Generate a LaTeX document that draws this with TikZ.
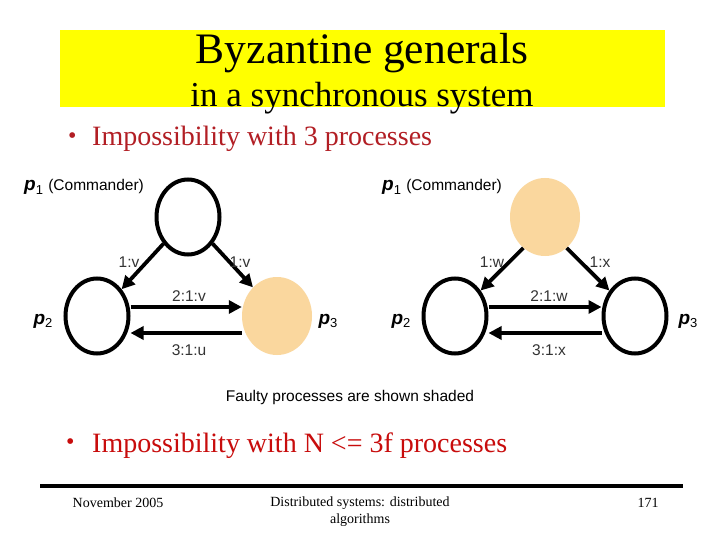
\documentclass[tikz,border=0pt]{standalone}
\usepackage{fontspec}
\setmainfont{Liberation Serif}
\setsansfont{Liberation Sans}
\usetikzlibrary{shapes.geometric,arrows.meta}
\definecolor{faulty}{RGB}{250,215,158}
\definecolor{titleyellow}{RGB}{255,255,0}
\definecolor{redA}{RGB}{178,30,36}
\definecolor{redB}{RGB}{200,12,12}
\tikzset{
  proc/.style={ellipse, draw=black, line width=4pt, minimum width=63pt, minimum height=75pt, inner sep=0pt},
  faultproc/.style={ellipse, fill=faulty, draw=none, minimum width=70pt, minimum height=78pt, inner sep=0pt},
  msg/.style={line width=3.8pt, -{Triangle[length=13pt,width=13pt]}},
  lab/.style={font=\sffamily\fontsize{15.5}{17}\selectfont, text=black!80, inner sep=0pt},
  plab/.style={font=\sffamily\fontsize{19}{21}\selectfont, inner sep=0pt},
  bul/.style={font=\fontsize{28}{30}\selectfont, anchor=base west, inner sep=0pt},
}
\newcommand{\pp}[1]{\textbf{\textit{p}}\raisebox{-0.35ex}{\fontsize{13}{13}\selectfont #1}}
\newcommand{\mybul}{\makebox[20pt][l]{\fontsize{24}{26}\selectfont\raisebox{0.22ex}{\textbullet}}}
\begin{document}
\begin{tikzpicture}[x=1pt,y=-1pt]
\useasboundingbox (0,0) rectangle (720,540);
\fill[white] (0,0) rectangle (720,540);
% title
\fill[titleyellow] (60,30) rectangle (665,107);
\node[font=\fontsize{43.5}{45}\selectfont, inner sep=0pt, anchor=base] (t1) at (362,64) {Byzantine generals};
\node[font=\fontsize{35}{37}\selectfont, inner sep=0pt, anchor=base] (t2) at (362,107) {in a synchronous system};
\node[bul, text=redA] (b1) at (68,146) {\mybul\hspace{4pt}Impossibility with 3 processes};
% left graph
\node[proc] (a1) at (188,217) {};
\node[proc] (a2) at (97,316) {};
\node[faultproc] (a3) at (277,316) {};
\node[plab, anchor=west] (a1l) at (24,187) {\pp{1} {\fontsize{15.5}{17}\selectfont(Commander)}};
\node[plab] (a2l) at (43,321) {\pp{2}};
\node[plab] (a3l) at (328,321) {\pp{3}};
\draw[msg] (a1) -- (a2);
\draw[msg] (a1) -- (a3.130);
\draw[msg] ([yshift=9pt]a2.east) -- ([yshift=9pt]a3.west);
\draw[msg] ([yshift=-17pt]a3.west) -- ([yshift=-17pt]a2.east);
\node[lab] at (129,262) {1:v};
\node[lab] at (240,262) {1:v};
\node[lab] at (189,296) {2:1:v};
\node[lab] at (189,350) {3:1:u};
% right graph
\node[faultproc] (b1n) at (545,217) {};
\node[proc] (b2) at (455,316) {};
\node[proc] (b3) at (635,316) {};
\node[plab, anchor=west] (b1l) at (382,187) {\pp{1} {\fontsize{15.5}{17}\selectfont(Commander)}};
\node[plab] (b2l) at (401,321) {\pp{2}};
\node[plab] (b3l) at (688,321) {\pp{3}};
\draw[msg] (b1n.-125) -- (b2);
\draw[msg] (b1n.-55) -- (b3);
\draw[msg] ([yshift=9pt]b2.east) -- ([yshift=9pt]b3.west);
\draw[msg] ([yshift=-17pt]b3.west) -- ([yshift=-17pt]b2.east);
\node[lab] at (492,262) {1:w};
\node[lab] at (600,262) {1:x};
\node[lab] at (549,296) {2:1:w};
\node[lab] at (549,350) {3:1:x};
% caption
\node[lab, text=black] (cap) at (350,397) {Faulty processes are shown shaded};
\node[bul, text=redB] (b2t) at (66,452) {\mybul\hspace{6pt}Impossibility with N {\textless}= 3f processes};
% footer
\draw[line width=3.5pt] (40,486) -- (683,486);
\node[font=\fontsize{14}{16}\selectfont, inner sep=0pt] (f1) at (118,503) {November 2005};
\node[font=\fontsize{14}{17}\selectfont, inner sep=0pt, align=center] (f2) at (360,512) {Distributed systems: distributed\\algorithms};
\node[font=\fontsize{14}{16}\selectfont, inner sep=0pt] (f3) at (648,503) {171};
\end{tikzpicture}
\end{document}
